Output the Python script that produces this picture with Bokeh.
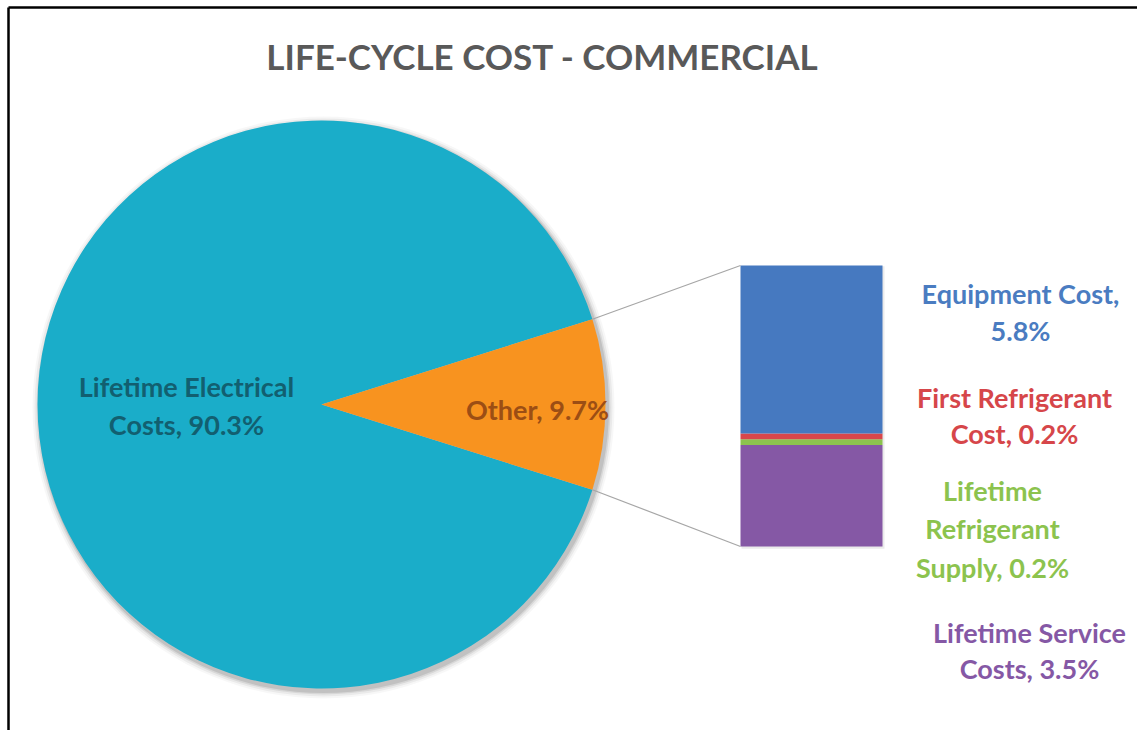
import numpy as np
from bokeh.plotting import figure
from bokeh.models import Range1d
from bokeh.embed import file_html
from bokeh.resources import INLINE
from bokeh.core.properties import value

# ---------------- data ----------------
title = "LIFE-CYCLE COST - COMMERCIAL"
pie_names = ["Lifetime Electrical Costs", "Other"]
pie_values = [90.3, 9.7]
pie_colors = ["#1AADC9", "#F8931F"]

bar_names = ["Lifetime Service Costs", "Lifetime Refrigerant Supply",
             "First Refrigerant Cost", "Equipment Cost"]
bar_values = [3.5, 0.2, 0.2, 5.8]
bar_colors = ["#8558A5", "#8CC34E", "#D9474B", "#4679C0"]

# words per line for each label ("name, value%")
pie_breaks = [[2, 2], [2]]
bar_breaks = [[2, 2], [1, 1, 2], [2, 2], [2, 1]]
pie_label_colors = ["#125F70", "#9C4E14"]
bar_label_colors = ["#8558A5", "#8CC34E", "#D6464A", "#4A7CC1"]

FONT = "Lato"

W, H = 1137, 730


def X(px):
    return px


def Y(py):
    return H - py


p = figure(width=W, height=H, x_range=Range1d(0, W), y_range=Range1d(0, H),
           output_backend="svg", toolbar_location=None,
           x_axis_location=None, y_axis_location=None, min_border=0)
p.grid.visible = False
p.outline_line_color = None
p.background_fill_color = "white"
p.border_fill_color = "white"


def wrap(name, val, breaks):
    words = f"{name}, {val}%".split()
    lines, i = [], 0
    for n in breaks:
        lines.append(" ".join(words[i:i + n]))
        i += n
    return lines


# frame (top and left edges visible)
p.line(x=[X(8), W], y=[Y(7), Y(7)], line_color="black", line_width=2.5)
p.line(x=[X(8), X(8)], y=[0, Y(7)], line_color="black", line_width=2.5)

# ---------------- pie ----------------
cx, cy, r = X(321), Y(404), 284
total = sum(pie_values)
half = np.pi * pie_values[1] / total
starts = [half, -half]
ends = [2 * np.pi - half, half]

# soft shadow
for k, a in [(7, 0.03), (5, 0.05), (3, 0.08), (1.5, 0.1)]:
    p.circle(x=cx + 2, y=cy - 3, radius=r + k, fill_color="#000000",
             fill_alpha=a, line_color=None)

p.wedge(x=[cx, cx], y=[cy, cy], radius=r, start_angle=starts, end_angle=ends,
        fill_color=pie_colors, line_color=None)

# ---------------- bar ----------------
bar_x, bar_w = X(811), 142
bar_bottom_px, bar_top_px = Y(546), Y(265)
btotal = sum(bar_values)
ppu = (bar_top_px - bar_bottom_px) / btotal
ystart = -bar_bottom_px / ppu
p.extra_y_ranges = {"bar": Range1d(ystart, ystart + H / ppu)}
tops = list(np.cumsum(bar_values))
bottoms = [0] + tops[:-1]
# faint shadow for bar
p.quad(left=bar_x - bar_w / 2 + 1, right=bar_x + bar_w / 2 + 2,
       bottom=-0.08, top=btotal - 0.03, y_range_name="bar",
       fill_color="#000000", fill_alpha=0.08, line_color=None)
p.vbar(x=bar_x, width=bar_w, bottom=bottoms, top=tops, y_range_name="bar",
       fill_color=bar_colors, line_color=None)

# connector lines
ex = cx + r * np.cos(half)
p.line(x=[ex, bar_x - bar_w / 2], y=[cy + r * np.sin(half), bar_top_px],
       line_color="#A6A6A6", line_width=1.2)
p.line(x=[ex, bar_x - bar_w / 2], y=[cy - r * np.sin(half), bar_bottom_px],
       line_color="#A6A6A6", line_width=1.2)

# ---------------- labels ----------------
pie_label_pos = [(186, [386, 424]), (537, [409])]
bar_label_pos = [(1029, [632, 668]), (992, [490, 528, 567]),
                 (1014, [397, 433]), (1020, [293, 330])]


def draw_label(lines, x, ys, color):
    p.text(x=[X(x)] * len(lines), y=[Y(v) for v in ys], text=lines,
           text_align="center", text_baseline="middle", text_color=color,
           text_font=value(FONT), text_font_style="bold", text_font_size="27px")


for name, v, br, (x, ys), c in zip(pie_names, pie_values, pie_breaks,
                                    pie_label_pos, pie_label_colors):
    draw_label(wrap(name, v, br), x, ys, c)
for name, v, br, (x, ys), c in zip(bar_names, bar_values, bar_breaks,
                                    bar_label_pos, bar_label_colors):
    draw_label(wrap(name, v, br), x, ys, c)

# title
p.text(x=[X(542)], y=[Y(55)], text=[title], text_align="center",
       text_baseline="middle", text_color="#595959", text_font=value(FONT),
       text_font_style="bold", text_font_size="35px")

open("out.html", "w").write(file_html(p, INLINE))
